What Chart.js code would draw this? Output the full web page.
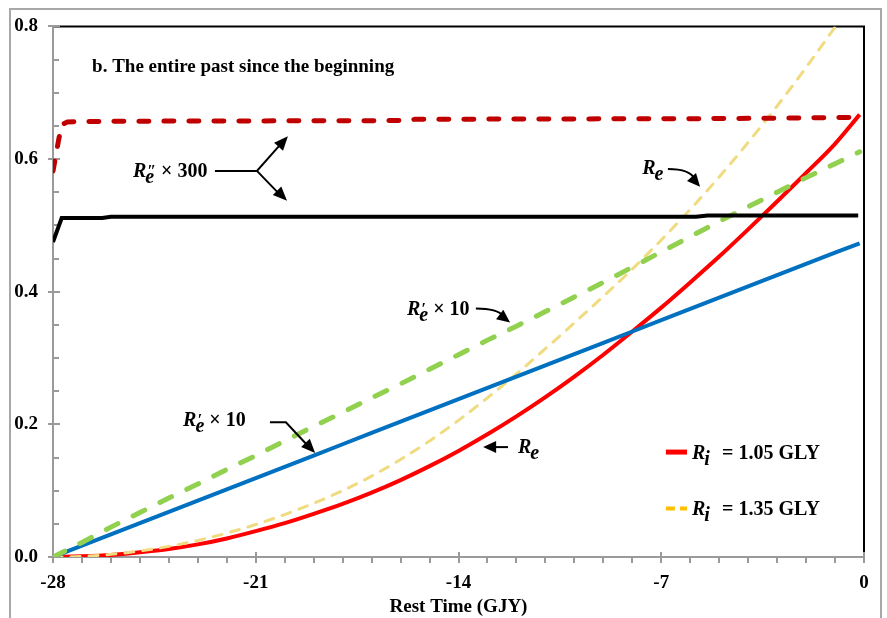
<!DOCTYPE html>
<html>
<head>
<meta charset="utf-8">
<script src="https://cdn.jsdelivr.net/npm/chart.js@4.4.0/dist/chart.umd.min.js"></script>
<style>
  body { margin: 0; background: #fff; }
  canvas { display: block; }
</style>
</head>
<body>
<canvas id="graphCanvas" width="887" height="618"></canvas>
<script>
// ---------------- data ----------------
var xTicks = [-28, -21, -14, -7, 0];
var yTicks = [0.0, 0.2, 0.4, 0.6, 0.8];

// rest time, integer steps (GJY)
var restTime = [-28, -27, -26, -25, -24, -23, -22, -21, -20, -19, -18, -17, -16, -15,
                -14, -13, -12, -11, -10, -9, -8, -7, -6, -5, -4, -3, -2, -1, -0.15];

// R_e, Ri = 1.05 GLY (red)
var reRed = [0, 0.001, 0.003, 0.007, 0.012, 0.019, 0.028, 0.039, 0.051, 0.065, 0.080, 0.097, 0.116, 0.137,
             0.160, 0.185, 0.212, 0.241, 0.272, 0.305, 0.340, 0.376, 0.414, 0.453, 0.494, 0.536, 0.579, 0.623, 0.667];
// R'_e x 10, Ri = 1.05 GLY (blue)
var rePrimeBlue = [0, 0.017, 0.034, 0.051, 0.068, 0.085, 0.102, 0.119, 0.136, 0.153, 0.170, 0.187, 0.204, 0.221,
                   0.238, 0.255, 0.272, 0.289, 0.306, 0.323, 0.340, 0.357, 0.374, 0.391, 0.408, 0.425, 0.442, 0.459, 0.473];
// R'_e x 10, Ri = 1.35 GLY (green dashed)
var rePrimeGreen = [0, 0.022, 0.045, 0.067, 0.089, 0.110, 0.132, 0.153, 0.175, 0.197, 0.218, 0.240, 0.261, 0.283,
                    0.305, 0.327, 0.348, 0.370, 0.392, 0.414, 0.437, 0.460, 0.483, 0.506, 0.528, 0.550, 0.572, 0.593, 0.611];

// R_e, Ri = 1.35 GLY (pale yellow dashed), leaves the top of the frame
var reYellowTime = [-28, -27, -26, -25, -24, -23, -22, -21, -20, -19, -18, -17, -16, -15,
                    -14, -13, -12, -11, -10, -9, -8, -7, -6, -5, -4, -3, -2, -1, -0.5];
var reYellow = [0, 0.001, 0.004, 0.009, 0.016, 0.025, 0.036, 0.049, 0.064, 0.081, 0.100, 0.122, 0.147, 0.175,
                0.206, 0.240, 0.276, 0.314, 0.353, 0.393, 0.434, 0.478, 0.524, 0.573, 0.625, 0.680, 0.738, 0.799, 0.830];

// R''_e x 300, Ri = 1.05 GLY (black)
var re2BlackTime = [-28, -27.7, -26.3, -26.0, -5.8, -5.4, -0.2];
var re2Black = [0.475, 0.511, 0.511, 0.513, 0.513, 0.515, 0.515];
// R''_e x 300, Ri = 1.35 GLY (dark red dashed)
var re2DarkTime = [-28, -27.8, -27.7, -27.5, -26, -16, -15.5, -5, -2, -0.2];
var re2Dark = [0.582, 0.630, 0.652, 0.656, 0.657, 0.658, 0.660, 0.661, 0.662, 0.663];

function pts(xs, ys) {
    var out = [];
    for (var i in xs) out.push({ x: xs[i], y: ys[i] });
    return out;
}

var serif = '"Liberation Serif", "Times New Roman", serif';
var tickFont = { family: serif, size: 19, weight: 'bold' };

// ---------------- text + arrow helpers ----------------
function richR(ctx, x, y, mark, sub, rest, size) {
    ctx.fillStyle = '#000';
    ctx.textBaseline = 'alphabetic';
    ctx.textAlign = 'left';
    ctx.font = 'italic bold ' + size + 'px ' + serif;
    ctx.fillText('R', x, y);
    var cx = x + ctx.measureText('R').width - 1;
    var w = 0;
    if (mark) {
        ctx.font = 'italic bold ' + (size - 4) + 'px ' + serif;
        ctx.fillText(mark, cx + 2, y - 1);
        w = ctx.measureText(mark).width + 2;
    }
    ctx.font = 'italic bold ' + size + 'px ' + serif;
    ctx.fillText(sub, cx, y + 6);
    w = Math.max(w, ctx.measureText(sub).width);
    cx += w;
    ctx.font = 'bold ' + size + 'px ' + serif;
    ctx.fillText(rest, cx, y);
}

function arrowHead(ctx, fx, fy, tx, ty, len, half) {
    var a = Math.atan2(ty - fy, tx - fx);
    ctx.beginPath();
    ctx.moveTo(tx, ty);
    ctx.lineTo(tx - len * Math.cos(a) + half * Math.sin(a), ty - len * Math.sin(a) - half * Math.cos(a));
    ctx.lineTo(tx - len * Math.cos(a) - half * Math.sin(a), ty - len * Math.sin(a) + half * Math.cos(a));
    ctx.closePath();
    ctx.fill();
}

// ---------------- decoration plugin ----------------
var frame = {
    id: 'frame',
    beforeDatasetsDraw: function (chart) {
        var ctx = chart.ctx, a = chart.chartArea;
        var sx = chart.scales.x, sy = chart.scales.y;
        ctx.save();
        // outer grey border of the figure
        ctx.strokeStyle = '#a8a8a8';
        ctx.lineWidth = 2;
        ctx.strokeRect(10, 9, 871, 620);
        // top + right black frame
        ctx.strokeStyle = '#000';
        ctx.beginPath();
        ctx.moveTo(a.left, a.top); ctx.lineTo(a.right, a.top); ctx.lineTo(a.right, a.bottom);
        ctx.stroke();
        // grey axes
        ctx.strokeStyle = '#9a9a9a';
        ctx.beginPath();
        ctx.moveTo(a.left, a.top - 1); ctx.lineTo(a.left, a.bottom); ctx.lineTo(a.right + 1, a.bottom);
        ctx.stroke();
        ctx.beginPath();
        for (var v = 0; v <= 16; v++) {
            var py = Math.round(sy.getPixelForValue(v * 0.05));
            if (v % 4 == 0) { ctx.moveTo(a.left - 5, py); ctx.lineTo(a.left + 7, py); }
            else { ctx.moveTo(a.left, py); ctx.lineTo(a.left + 6, py); }
        }
        for (var t = -28; t <= 0; t++) {
            var px = Math.round(sx.getPixelForValue(t));
            if (t % 7 == 0) { ctx.moveTo(px, a.bottom - 5); ctx.lineTo(px, a.bottom + 6); }
            else { ctx.moveTo(px, a.bottom); ctx.lineTo(px, a.bottom + 6); }
        }
        ctx.stroke();
        ctx.restore();
    },
    afterDraw: function (chart) {
        var ctx = chart.ctx;
        var sx = chart.scales.x, sy = chart.scales.y;
        function X(v) { return sx.getPixelForValue(v); }
        function Y(v) { return sy.getPixelForValue(v); }
        ctx.save();
        ctx.fillStyle = '#000';
        ctx.strokeStyle = '#000';
        ctx.lineWidth = 2;

        ctx.font = 'bold 19px ' + serif;
        ctx.textBaseline = 'alphabetic';
        ctx.fillText('b. The entire past since the beginning', X(-26.65), Y(0.7313));

        // R''e x 300 with forked arrow
        richR(ctx, X(-25.24), Y(0.5731), '\u2033', 'e', ' \u00d7 300', 20);
        ctx.beginPath();
        ctx.moveTo(X(-22.41), Y(0.5821)); ctx.lineTo(X(-20.96), Y(0.5821));
        ctx.lineTo(X(-20.2), Y(0.6196));
        ctx.moveTo(X(-20.96), Y(0.5821)); ctx.lineTo(X(-20.2), Y(0.5478));
        ctx.stroke();
        arrowHead(ctx, X(-20.96), Y(0.5821), X(-19.89), Y(0.6343), 14, 6);
        arrowHead(ctx, X(-20.96), Y(0.5821), X(-19.92), Y(0.5373), 14, 6);

        // R_e upper right (yellow curve)
        richR(ctx, X(-7.66), Y(0.5776), null, 'e', '', 20);
        ctx.beginPath();
        ctx.moveTo(X(-6.77), Y(0.5851));
        ctx.quadraticCurveTo(X(-6.0), Y(0.5851), X(-5.85), Y(0.5700));
        ctx.stroke();
        arrowHead(ctx, X(-6.2), Y(0.5851), X(-5.66), Y(0.5582), 13, 6);

        // R'e x 10 middle (green curve)
        richR(ctx, X(-15.78), Y(0.3642), '\u2032', 'e', ' \u00d7 10', 20);
        ctx.beginPath();
        ctx.moveTo(X(-13.40), Y(0.3746));
        ctx.quadraticCurveTo(X(-12.65), Y(0.3746), X(-12.45), Y(0.3630));
        ctx.stroke();
        arrowHead(ctx, X(-12.85), Y(0.3746), X(-12.22), Y(0.3537), 13, 6);

        // R'e x 10 lower (blue curve)
        richR(ctx, X(-23.51), Y(0.1970), '\u2032', 'e', ' \u00d7 10', 20);
        ctx.beginPath();
        ctx.moveTo(X(-20.51), Y(0.2030)); ctx.lineTo(X(-19.96), Y(0.2030));
        ctx.lineTo(X(-19.25), Y(0.1700));
        ctx.stroke();
        arrowHead(ctx, X(-19.96), Y(0.2030), X(-18.95), Y(0.1567), 14, 6);

        // R_e lower (red curve)
        ctx.beginPath();
        ctx.moveTo(X(-12.29), Y(0.1657)); ctx.lineTo(X(-12.8), Y(0.1657));
        ctx.stroke();
        arrowHead(ctx, X(-12.29), Y(0.1657), X(-13.15), Y(0.1657), 13, 6);
        richR(ctx, X(-11.95), Y(0.1567), null, 'e', '', 20);

        // legend
        ctx.lineWidth = 5;
        ctx.strokeStyle = '#ff0000';
        ctx.beginPath();
        ctx.moveTo(X(-6.84), Y(0.1582)); ctx.lineTo(X(-6.11), Y(0.1582));
        ctx.stroke();
        ctx.lineWidth = 4;
        ctx.strokeStyle = '#ffc000';
        ctx.setLineDash([9, 5]);
        ctx.beginPath();
        ctx.moveTo(X(-6.84), Y(0.0731)); ctx.lineTo(X(-6.11), Y(0.0731));
        ctx.stroke();
        ctx.setLineDash([]);
        var legendText = ['= 1.05 GLY', '= 1.35 GLY'];
        var legendY = [0.1478, 0.0627];
        for (var i = 0; i < 2; i++) {
            richR(ctx, X(-5.94), Y(legendY[i]), null, 'i', '', 20);
            ctx.font = 'bold 20px ' + serif;
            ctx.fillText(legendText[i], X(-4.90), Y(legendY[i]));
        }
        ctx.restore();
    }
};

// ---------------- chart ----------------
var chartdata = {
    datasets: [
        { data: pts(re2BlackTime, re2Black), borderColor: '#000000', borderWidth: 4 },
        { data: pts(re2DarkTime, re2Dark), borderColor: '#c00000', borderWidth: 5,
          borderDash: [10, 15], borderCapStyle: 'round' },
        { data: pts(restTime, rePrimeGreen), borderColor: '#92d050', borderWidth: 5,
          borderDash: [13, 17], borderCapStyle: 'round' },
        { data: pts(restTime, rePrimeBlue), borderColor: '#0070c0', borderWidth: 4 },
        { data: pts(reYellowTime, reYellow), borderColor: '#f0db80', borderWidth: 3,
          borderDash: [9, 9], borderCapStyle: 'round', clip: 0, cubicInterpolationMode: 'monotone' },
        { data: pts(restTime, reRed), borderColor: '#ff0000', borderWidth: 4,
          cubicInterpolationMode: 'monotone' }
    ]
};

var graph = new Chart(document.getElementById('graphCanvas'), {
    type: 'line',
    data: chartdata,
    options: {
        responsive: false,
        animation: false,
        layout: { padding: { left: 10, top: 21, right: 23, bottom: 0 } },
        elements: { point: { radius: 0 }, line: { fill: false } },
        plugins: { legend: { display: false }, tooltip: { enabled: false } },
        scales: {
            x: {
                type: 'linear', min: -28, max: 0,
                afterBuildTicks: function (s) { s.ticks = xTicks.map(function (v) { return { value: v }; }); },
                ticks: { font: tickFont, color: '#000', padding: 15, maxRotation: 0 },
                grid: { display: false, drawTicks: false }, border: { display: false },
                title: { display: true, text: 'Rest Time (GJY)', color: '#000', font: tickFont,
                         padding: { top: 0, bottom: 0 } },
                afterFit: function (s) { s.height = 61; }
            },
            y: {
                min: 0, max: 0.8,
                afterBuildTicks: function (s) { s.ticks = yTicks.map(function (v) { return { value: v }; }); },
                ticks: { font: tickFont, color: '#000', padding: 15,
                         callback: function (v) { return v.toFixed(1); } },
                grid: { display: false, drawTicks: false }, border: { display: false },
                afterFit: function (s) { s.width = 43; }
            }
        }
    },
    plugins: [frame]
});
</script>
</body>
</html>
